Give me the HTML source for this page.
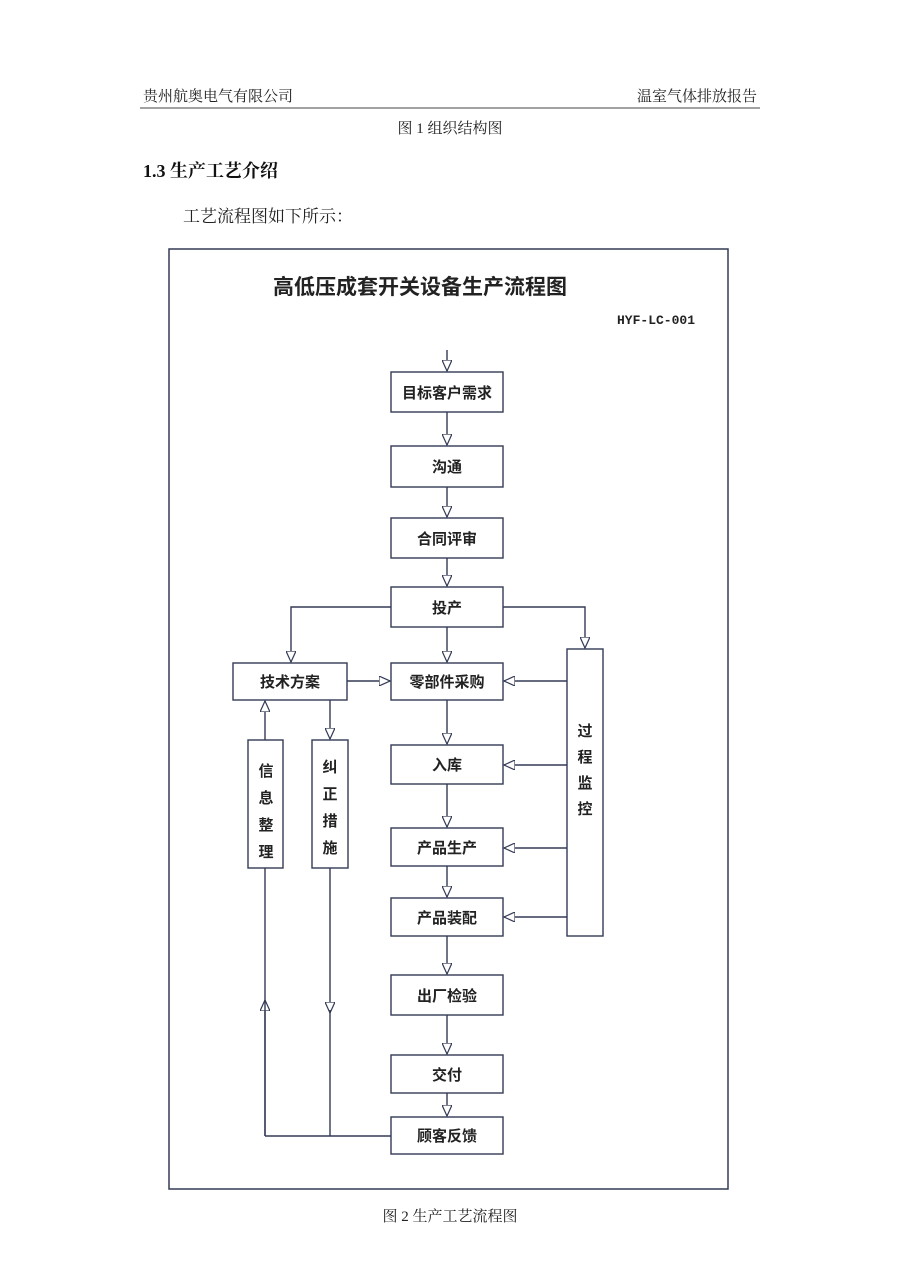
<!DOCTYPE html>
<html><head><meta charset="utf-8"><style>
body{margin:0;background:#fff;}
svg{display:block}
</style></head><body>
<svg width="900" height="1272" viewBox="0 0 900 1272" xmlns="http://www.w3.org/2000/svg" font-family="'Liberation Serif','Noto Serif CJK SC',serif">
<defs>
<marker id="a" markerWidth="12" markerHeight="10" refX="11" refY="5" orient="auto" markerUnits="userSpaceOnUse">
<path d="M0,0 L11,5 L0,10 Z" fill="#fff" stroke="#333a55" stroke-width="1.2"/>
</marker>
</defs>
<text x="143" y="101" font-size="15" fill="#222">贵州航奥电气有限公司</text>
<text x="757" y="101" font-size="15" fill="#222" text-anchor="end">温室气体排放报告</text>
<line x1="140" y1="108" x2="760" y2="108" stroke="#444" stroke-width="1"/>
<text x="450" y="133" font-size="15" fill="#222" text-anchor="middle">图 1 组织结构图</text>
<text x="143" y="177" font-size="18" font-weight="bold" fill="#111">1.3 生产工艺介绍</text>
<text x="183" y="222" font-size="17" fill="#222">工艺流程图如下所示：</text>
<text x="450" y="1221" font-size="15" fill="#222" text-anchor="middle">图 2  生产工艺流程图</text>

<g stroke="#333a55" stroke-width="1.5" fill="none">
<rect x="169" y="249" width="559" height="940"/>
</g>
<g font-family="'Liberation Sans','Noto Sans CJK SC',sans-serif" font-weight="bold" fill="#222">
<text x="420" y="294" font-size="21" text-anchor="middle">高低压成套开关设备生产流程图</text>
<text x="656" y="324" font-size="13" text-anchor="middle" font-family="'Liberation Mono',monospace">HYF-LC-001</text>
</g>

<g stroke="#333a55" stroke-width="1.4" fill="#fff">
<rect x="391" y="372" width="112" height="40"/>
<rect x="391" y="446" width="112" height="41"/>
<rect x="391" y="518" width="112" height="40"/>
<rect x="391" y="587" width="112" height="40"/>
<rect x="391" y="663" width="112" height="37"/>
<rect x="391" y="745" width="112" height="39"/>
<rect x="391" y="828" width="112" height="38"/>
<rect x="391" y="898" width="112" height="38"/>
<rect x="391" y="975" width="112" height="40"/>
<rect x="391" y="1055" width="112" height="38"/>
<rect x="391" y="1117" width="112" height="37"/>
<rect x="233" y="663" width="114" height="37"/>
<rect x="248" y="740" width="35" height="128"/>
<rect x="312" y="740" width="36" height="128"/>
<rect x="567" y="649" width="36" height="287"/>
</g>

<g stroke="#333a55" stroke-width="1.4" fill="none" marker-end="url(#a)">
<line x1="447" y1="350" x2="447" y2="371"/>
<line x1="447" y1="412" x2="447" y2="445"/>
<line x1="447" y1="487" x2="447" y2="517"/>
<line x1="447" y1="558" x2="447" y2="586"/>
<line x1="447" y1="627" x2="447" y2="662"/>
<line x1="447" y1="700" x2="447" y2="744"/>
<line x1="447" y1="784" x2="447" y2="827"/>
<line x1="447" y1="866" x2="447" y2="897"/>
<line x1="447" y1="936" x2="447" y2="974"/>
<line x1="447" y1="1015" x2="447" y2="1054"/>
<line x1="447" y1="1093" x2="447" y2="1116"/>
<polyline points="391,607 291,607 291,662"/>
<polyline points="503,607 585,607 585,648"/>
<line x1="347" y1="681" x2="390" y2="681"/>
<line x1="567" y1="681" x2="504" y2="681"/>
<line x1="567" y1="765" x2="504" y2="765"/>
<line x1="567" y1="848" x2="504" y2="848"/>
<line x1="567" y1="917" x2="504" y2="917"/>
<line x1="265" y1="740" x2="265" y2="701"/>
<line x1="330" y1="700" x2="330" y2="739"/>
<line x1="265" y1="1136" x2="265" y2="1000"/>
<line x1="330" y1="868" x2="330" y2="1013"/>
</g>
<g stroke="#333a55" stroke-width="1.4" fill="none">
<line x1="265" y1="868" x2="265" y2="1136"/>
<line x1="330" y1="1010" x2="330" y2="1136"/>
<line x1="265" y1="1136" x2="391" y2="1136"/>
</g>

<g font-family="'Liberation Sans','Noto Sans CJK SC',sans-serif" font-weight="bold" font-size="15" fill="#222" text-anchor="middle">
<text x="447" y="398">目标客户需求</text>
<text x="447" y="472">沟通</text>
<text x="447" y="544">合同评审</text>
<text x="447" y="613">投产</text>
<text x="447" y="687">零部件采购</text>
<text x="447" y="770">入库</text>
<text x="447" y="853">产品生产</text>
<text x="447" y="923">产品装配</text>
<text x="447" y="1001">出厂检验</text>
<text x="447" y="1080">交付</text>
<text x="447" y="1141">顾客反馈</text>
<text x="290" y="687">技术方案</text>
<text x="266" y="776">信</text><text x="266" y="803">息</text><text x="266" y="830">整</text><text x="266" y="857">理</text>
<text x="330" y="772">纠</text><text x="330" y="799">正</text><text x="330" y="826">措</text><text x="330" y="853">施</text>
<text x="585" y="736">过</text><text x="585" y="762">程</text><text x="585" y="788">监</text><text x="585" y="814">控</text>
</g>
</svg>
</body></html>
